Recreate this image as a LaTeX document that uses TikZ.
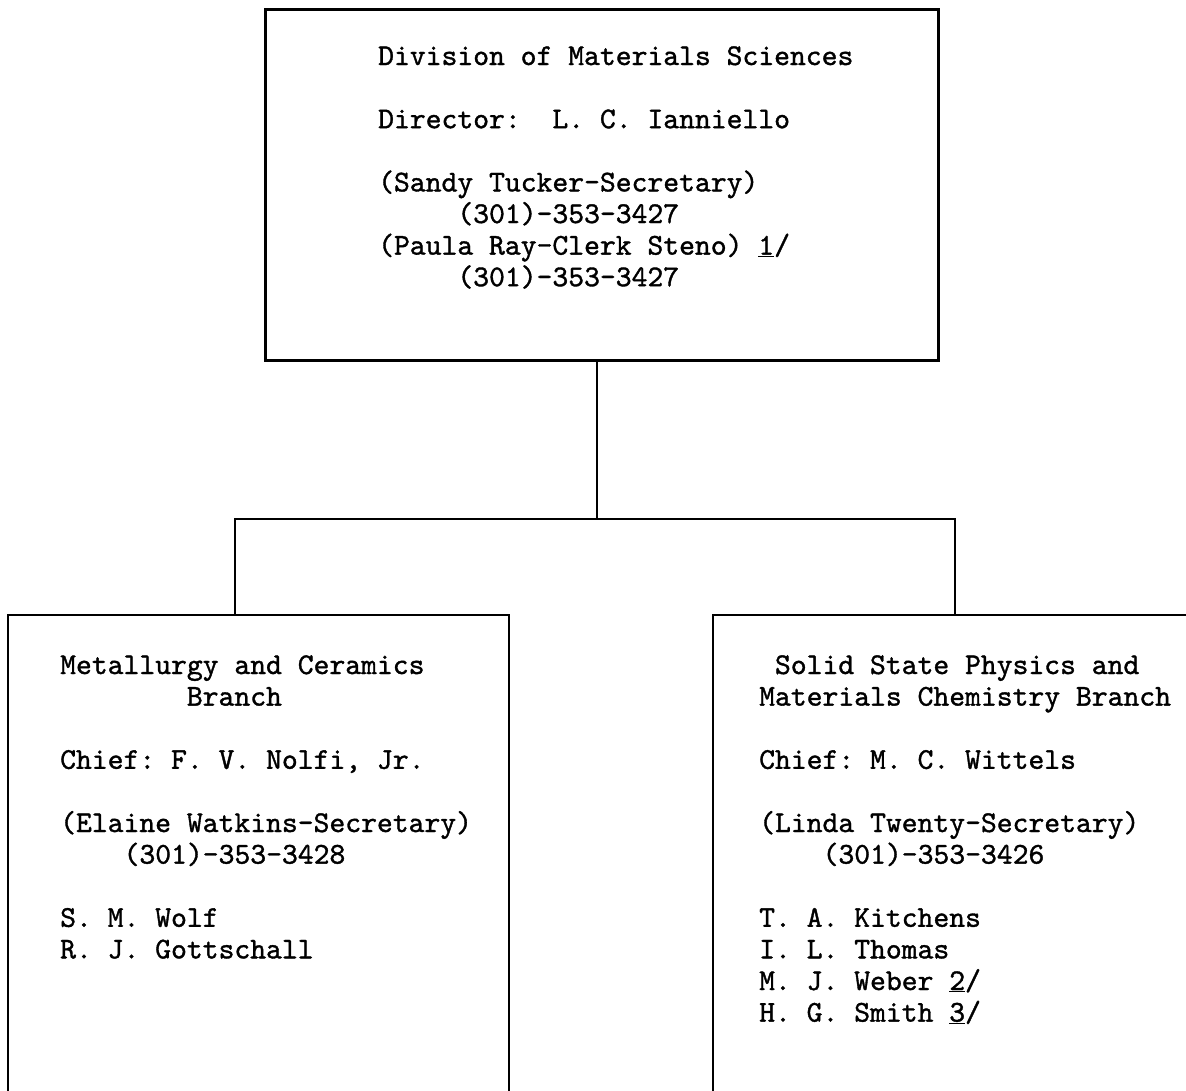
\documentclass[tikz,border=0pt]{standalone}
\usepackage{fontspec}
\newfontface\twfont{lmmono10-regular}[Extension=.otf, FakeBold=1.2]
\begin{document}
\frenchspacing
\begin{tikzpicture}[x=1pt,y=-1pt,
  tw/.style={font=\twfont\fontsize{30.17pt}{31.6pt}\selectfont, inner sep=0pt, anchor=base west, text=black},
  rule/.style={line width=2.6pt, draw=black},
  boxline/.style={draw=black, line width=2.6pt, inner sep=0pt}]
\useasboundingbox (0,0) rectangle (1186,1090);

% top box
\node[boxline, anchor=north west, minimum width=673pt, minimum height=351pt] (top) at (264,8) {};

% connection points
\coordinate (j) at (597,519);
\coordinate (lb) at (235,615);
\coordinate (rb) at (955,615);

% lower boxes (cut off by the page)
\draw[rule] (8,1095) |- (509,615) -- (509,1095);
\draw[rule] (713,1095) |- (1195,615);

% connectors
\draw[rule] (top.south -| j) -- (j);
\draw[rule] (lb) |- (j) -| (rb);

% top box text
\node[tw] (t1) at (378,65) {Division of Materials Sciences};
\node[tw] (t2) at (378,128.2) {Director:~~L. C. Ianniello};
\node[tw] (t3) at (378,191.4) {(Sandy Tucker-Secretary)};
\node[tw] (t4) at (457.2,223) {(301)-353-3427};
\node[tw] (t5) at (378,254.6) {(Paula Ray-Clerk Steno) \underline{1}/};
\node[tw] (t6) at (457.2,286.2) {(301)-353-3427};

% left box text
\node[tw] (l1) at (60,674) {Metallurgy and Ceramics};
\node[tw] (l2) at (186.7,705.6) {Branch};
\node[tw] (l3) at (60,768.8) {Chief: F. V. Nolfi, Jr.};
\node[tw] (l4) at (60,832) {(Elaine Watkins-Secretary)};
\node[tw] (l5) at (123.4,863.6) {(301)-353-3428};
\node[tw] (l6) at (60,926.8) {S. M. Wolf};
\node[tw] (l7) at (60,958.4) {R. J. Gottschall};

% right box text
\node[tw] (r1) at (774.8,674) {Solid State Physics and};
\node[tw] (r2) at (759,705.6) {Materials Chemistry Branch};
\node[tw] (r3) at (759,768.8) {Chief: M. C. Wittels};
\node[tw] (r4) at (759,832) {(Linda Twenty-Secretary)};
\node[tw] (r5) at (822.4,863.6) {(301)-353-3426};
\node[tw] (r6) at (759,926.8) {T. A. Kitchens};
\node[tw] (r7) at (759,958.4) {I. L. Thomas};
\node[tw] (r8) at (759,990) {M. J. Weber \underline{2}/};
\node[tw] (r9) at (759,1021.6) {H. G. Smith \underline{3}/};
\end{tikzpicture}
\end{document}
